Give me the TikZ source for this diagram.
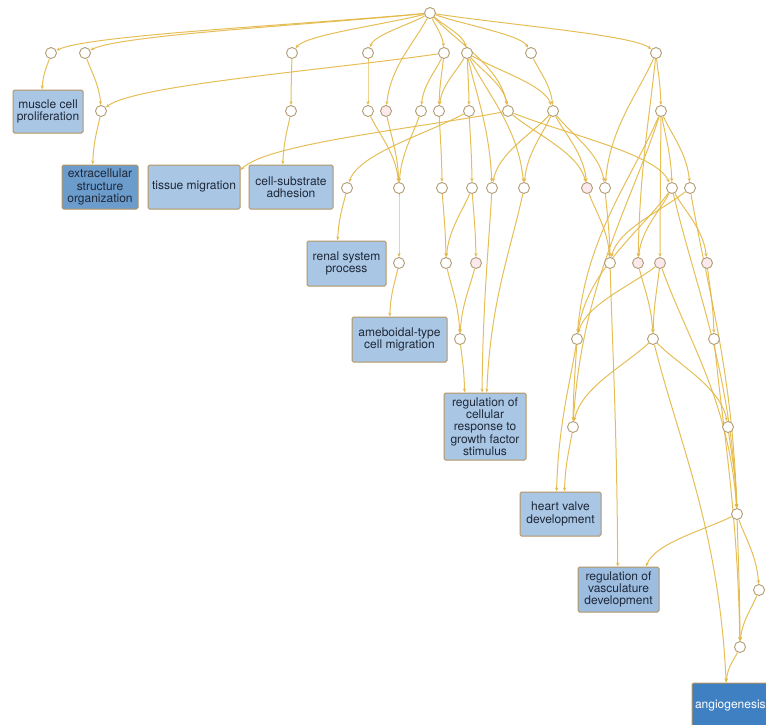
\documentclass[tikz,border=0pt]{standalone}
\usepackage{fontspec}
\setmainfont{TeX Gyre Heros}
\usetikzlibrary{arrows.meta,calc}

\definecolor{linkcol}{HTML}{E2B744}
\definecolor{ringcol}{HTML}{B19C74}
\definecolor{boxedge}{HTML}{B49560}
\definecolor{boxlight}{HTML}{A9C6E4}
\definecolor{boxmid}{HTML}{9DBDE0}
\definecolor{boxdark}{HTML}{6C9CCC}
\definecolor{boxdeep}{HTML}{3F80C2}
\definecolor{txt}{HTML}{1E2838}
\definecolor{blush}{HTML}{FBE9EE}

\pgfdeclarelayer{edges}
\pgfsetlayers{edges,main}

\tikzset{
  dot/.style={circle, draw=ringcol, fill=white, line width=0.9pt,
    minimum size=11pt, inner sep=0pt},
  term/.style={rectangle, rounded corners=1.5pt, draw=boxedge, line width=1pt,
    fill=boxlight, text=txt, align=center, inner sep=2pt,
    font=\fontsize{12}{12.4}\selectfont},
  dagline/.style={draw=linkcol, line width=1pt, opacity=0.9,
    -{Stealth[length=4pt,width=3.2pt]}},
}

% curved connector from an upper node to a lower one
\newcommand\lnk[2]{%
  \draw[dagline] let \p1=(#1), \p2=(#2),
    \n1={0.3*(\y1-\y2)}, \n2={0.35*(\x2-\x1)},
    \n3={0.45*(\y1-\y2)}, \n4={0.1*(\x2-\x1)} in
    (#1) .. controls +(\n2,-\n1) and +(-\n4,\n3) .. (#2);}

\begin{document}
\begin{tikzpicture}[x=1pt,y=-1pt]
\useasboundingbox (0,0) rectangle (766,724);
\clip (0,0) rectangle (766,724);

% ---- term boxes ----
\node[term, minimum width=70pt, minimum height=43pt] (MCP) at (48,111.5) {muscle cell\\proliferation};
\node[term, fill=boxdark, minimum width=76pt, minimum height=44pt] (ECO) at (100,187) {extracellular\\structure\\organization};
\node[term, minimum width=92pt, minimum height=44pt] (TM) at (194,187) {tissue migration};
\node[term, minimum width=84pt, minimum height=44pt] (CSA) at (291,187) {cell-substrate\\adhesion};
\node[term, minimum width=79pt, minimum height=45pt] (RSP) at (346.5,263.5) {renal system\\process};
\node[term, minimum width=95pt, minimum height=45pt] (AMB) at (399.5,339.5) {ameboidal-type\\cell migration};
\node[term, minimum width=82pt, minimum height=67pt] (RCR) at (485,426.5) {regulation of\\cellular\\response to\\growth factor\\stimulus};
\node[term, minimum width=81pt, minimum height=44pt] (HVD) at (560.5,514) {heart valve\\development};
\node[term, fill=boxmid, minimum width=81pt, minimum height=45pt] (RVD) at (618.5,589.5) {regulation of\\vasculature\\development};
\node[term, fill=boxdeep, text=white, minimum width=100pt, minimum height=46pt,
      text width=96pt, align=left, inner sep=2pt] (ANG) at (742,706) {\hspace*{1pt}angiogenesis};

% ---- intermediate points ----
\node[dot] (R) at (430,13) {};
\node[dot] (A1) at (51,53) {};
\node[dot] (A2) at (85,53) {};
\node[dot] (A3) at (292,53) {};
\node[dot] (A4) at (368,53) {};
\node[dot] (A5) at (444,53) {};
\node[dot] (A6) at (467,53) {};
\node[dot] (A7) at (531,53) {};
\node[dot] (A8) at (656,53) {};

\node[dot] (B1) at (101,111) {};
\node[dot] (B2) at (291,111) {};
\node[dot] (B3) at (368,111) {};
\node[dot, fill=blush] (B4) at (386,111) {};
\node[dot] (B5) at (421,111) {};
\node[dot] (B6) at (439,111) {};
\node[dot] (B7) at (469,111) {};
\node[dot] (B8) at (508,111) {};
\node[dot] (B9) at (553,111) {};
\node[dot] (B10) at (661,111) {};

\node[dot] (C1) at (347,188) {};
\node[dot] (C2) at (399,188) {};
\node[dot] (C3) at (442,188) {};
\node[dot] (C4) at (472,188) {};
\node[dot] (C5) at (492,188) {};
\node[dot] (C6) at (524,188) {};
\node[dot, fill=blush] (C7) at (587,188) {};
\node[dot] (C8) at (605,188) {};
\node[dot] (C9) at (672,188) {};
\node[dot] (C10) at (690,188) {};

\node[dot] (D1) at (399,263) {};
\node[dot] (D2) at (446,263) {};
\node[dot, fill=blush] (D3) at (476,263) {};
\node[dot] (D4) at (610,263) {};
\node[dot, fill=blush] (D5) at (638,263) {};
\node[dot, fill=blush] (D6) at (660,263) {};
\node[dot, fill=blush] (D7) at (707,263) {};

\node[dot] (E1) at (460,339) {};
\node[dot] (E2) at (577,339) {};
\node[dot] (E3) at (653,339) {};
\node[dot] (E4) at (714,339) {};

\node[dot] (F1) at (573,427) {};
\node[dot] (F2) at (728,427) {};
\node[dot] (G1) at (737,514) {};
\node[dot] (H1) at (759,590) {};
\node[dot] (K1) at (740,647) {};

% ---- connectors ----
\begin{pgfonlayer}{edges}
\foreach \t in {A1,A2,A3,A4,A5,A6,A7,A8,B4,B8} {\lnk{R}{\t}}
\lnk{A1}{MCP.105}
\lnk{A2}{B1}
\lnk{A5}{B1}
\lnk{B1}{ECO.108}
\lnk{A3}{B2}
\lnk{B2}{CSA.110}
\lnk{A4}{B3}
\lnk{B3}{C2}
\lnk{B4}{C2}
\lnk{B5}{C2}
\lnk{A5}{B5}
\lnk{A5}{B6}
\lnk{A6}{B6}
\lnk{A6}{B7}
\lnk{A6}{B8}
\lnk{A6}{B9}
\lnk{A7}{B9}
\lnk{A6}{C5}
\lnk{A6}{C6}
\lnk{B6}{C3}
\lnk{B7}{C4}
\lnk{B7}{C1}
\lnk{B8}{TM.20}
\lnk{B8}{C7}
\lnk{B8}{C9}
\lnk{B9}{C5}
\lnk{B9}{C6}
\lnk{B9}{C7}
\lnk{B9}{C8}
\lnk{A8}{B10}
\lnk{A8}{C8}
\lnk{A8}{D5}
\lnk{B10}{C9}
\lnk{B10}{C10}
\lnk{B10}{E2}
\lnk{B10}{D6}
\lnk{B10}{F1}
\lnk{C1}{RSP.111}
\lnk{C2}{D1}
\lnk{D1}{AMB.113}
\lnk{C3}{D2}
\lnk{C4}{D2}
\lnk{C4}{D3}
\lnk{D2}{E1}
\lnk{D3}{E1}
\lnk{E1}{RCR.121}
\lnk{C5}{RCR.95}
\lnk{C6}{RCR.87}
\lnk{C7}{D4}
\lnk{C8}{D4}
\lnk{C10}{D4}
\lnk{D4}{RVD.92}
\lnk{C9}{D5}
\lnk{C9}{E2}
\lnk{C9}{D7}
\lnk{C9}{G1}
\lnk{C10}{G1}
\lnk{D5}{E3}
\lnk{D6}{E2}
\lnk{D6}{E3}
\lnk{D6}{G1}
\lnk{D7}{E4}
\lnk{E2}{F1}
\lnk{E2}{HVD.100}
\lnk{E3}{F1}
\lnk{E3}{F2}
\lnk{E3}{ANG.124}
\lnk{E4}{K1}
\lnk{F1}{HVD.80}
\lnk{F2}{G1}
\lnk{G1}{RVD.40}
\lnk{G1}{H1}
\lnk{G1}{K1}
\lnk{H1}{K1}
\lnk{K1}{ANG.124}
\end{pgfonlayer}
\end{tikzpicture}
\end{document}
